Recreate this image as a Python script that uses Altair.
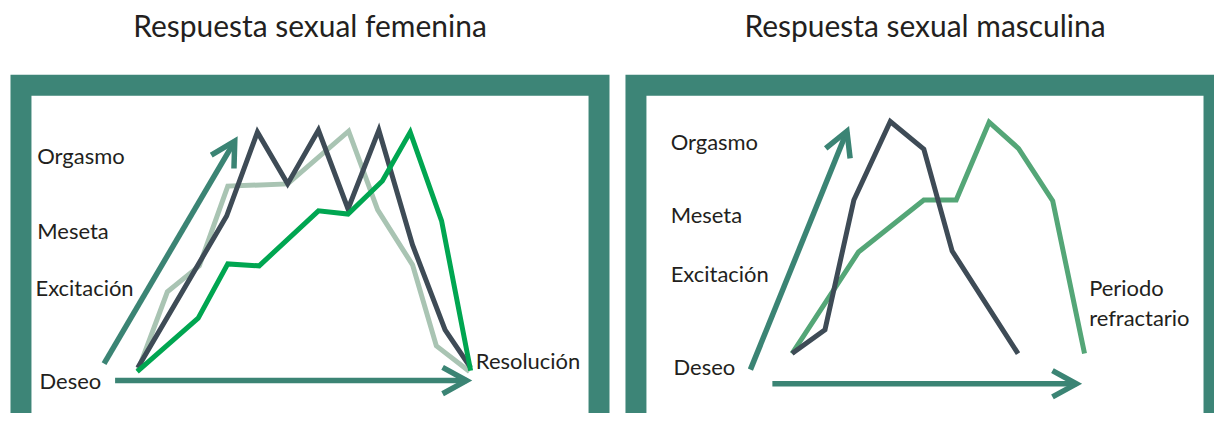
import altair as alt
import pandas as pd

# ---------------- colours / fonts ----------------
FRAME = "#3d8577"
ARROW = "#3b8474"
DARK = "#3e4b56"
LIGHT = "#a9c4b3"
GREEN_F = "#00a651"
GREEN_M = "#54a677"
TEXT = "#231f20"
FONT = "Lato"

# ---------------- data: femenina (t = tiempo 0-100, nivel 0-100) ----------------
fem_dark_t = [20.1, 35.4, 40.7, 45.9, 51.2, 56.3, 61.6, 67.4, 73.0, 77.4]
fem_dark_y = [12.1, 59.3, 85.4, 69.3, 86.0, 61.5, 86.0, 50.3, 23.9, 12.1]

fem_light_t = [20.2, 25.2, 30.7, 35.6, 45.9, 56.4, 61.4, 67.4, 71.5, 77.2]
fem_light_y = [11.5, 35.7, 43.8, 68.6, 69.3, 85.7, 61.2, 44.1, 18.9, 10.9]

fem_green_t = [20.0, 30.5, 35.6, 41.0, 51.2, 56.3, 62.2, 67.0, 72.4, 77.4]
fem_green_y = [10.9, 27.5, 44.4, 43.8, 60.9, 59.9, 70.2, 85.4, 57.8, 11.2]

fem_labels = ["Orgasmo", "Meseta", "Excitación", "Deseo", "Resolución"]
fem_label_t = [2.8, 2.8, 2.5, 3.2, 78.3]
fem_label_y = [75.5, 52.2, 34.5, 5.6, 11.8]

# arrows: start, end, angle of head
fem_arrow_t = [14.3, 16.2]
fem_arrow_y = [13.4, 8.1]
fem_arrow_t2 = [36.8, 76.7]
fem_arrow_y2 = [82.6, 8.1]
fem_arrow_angle = [300.5, 0]

# ---------------- data: masculina ----------------
mas_dark_t = [27.0, 32.7, 37.7, 44.0, 49.8, 54.7, 66.1]
mas_dark_y = [16.5, 23.9, 64.3, 88.7, 80.1, 48.4, 16.5]

mas_green_t = [27.0, 38.5, 49.8, 55.4, 61.1, 66.2, 72.1, 77.6]
mas_green_y = [16.5, 48.1, 64.3, 64.3, 88.5, 80.3, 64.0, 16.5]

mas_labels = ["Orgasmo", "Meseta", "Excitación", "Deseo", "Periodo", "refractario"]
mas_label_t = [6.0, 6.0, 6.0, 6.5, 78.4, 78.4]
mas_label_y = [79.8, 57.1, 38.8, 9.9, 34.5, 25.2]

mas_arrow_t = [19.8, 23.6]
mas_arrow_y = [11.5, 7.1]
mas_arrow_t2 = [36.5, 76.2]
mas_arrow_y2 = [85.7, 7.1]
mas_arrow_angle = [292.1, 0]

CHEVRON = "M-1,-0.55L0,0L-1,0.55"

XS_F = alt.Scale(domain=[0, 99.5], nice=False, zero=False)
XS_M = alt.Scale(domain=[0, 100], nice=False, zero=False)
YS = alt.Scale(domain=[-6.7, 100], nice=False, zero=False)


def line_layer(ts, ys, color, xs):
    df = pd.DataFrame({"t": ts, "y": ys, "i": list(range(len(ts)))})
    return alt.Chart(df).mark_line(color=color, strokeWidth=5, strokeJoin="miter").encode(
        x=alt.X("t:Q", scale=xs, axis=None),
        y=alt.Y("y:Q", scale=YS, axis=None),
        order="i:O",
    )


def arrow_layers(t1, y1, t2, y2, ang, xs):
    df = pd.DataFrame({"t": t1, "y": y1, "t2": t2, "y2": y2, "a": ang})
    shaft = alt.Chart(df).mark_rule(color=ARROW, strokeWidth=5.5).encode(
        x=alt.X("t:Q", scale=xs, axis=None),
        y=alt.Y("y:Q", scale=YS, axis=None),
        x2="t2:Q",
        y2="y2:Q",
    )
    head = alt.Chart(df).mark_point(
        shape=CHEVRON, filled=False, color=ARROW, strokeWidth=5.5,
        size=2304, opacity=1, strokeJoin="miter",
    ).encode(
        x=alt.X("t2:Q", scale=xs, axis=None),
        y=alt.Y("y2:Q", scale=YS, axis=None),
        angle=alt.Angle("a:Q", scale=None),
    )
    return shaft + head


def label_layer(labels, ts, ys, xs):
    df = pd.DataFrame({"label": labels, "t": ts, "y": ys})
    return alt.Chart(df).mark_text(
        align="left", baseline="alphabetic", font=FONT, fontSize=22, color=TEXT
    ).encode(
        x=alt.X("t:Q", scale=xs, axis=None),
        y=alt.Y("y:Q", scale=YS, axis=None),
        text="label:N",
    )


def title(text):
    return alt.TitleParams(
        text, font=FONT, fontSize=30, fontWeight="normal", color=TEXT,
        anchor="middle", offset=42,
    )


left = alt.layer(
    arrow_layers(fem_arrow_t, fem_arrow_y, fem_arrow_t2, fem_arrow_y2, fem_arrow_angle, XS_F),
    line_layer(fem_light_t, fem_light_y, LIGHT, XS_F),
    line_layer(fem_dark_t, fem_dark_y, DARK, XS_F),
    line_layer(fem_green_t, fem_green_y, GREEN_F, XS_F),
    label_layer(fem_labels, fem_label_t, fem_label_y, XS_F),
).properties(width=579, height=343.5, title=title("Respuesta sexual femenina"))

right = alt.layer(
    arrow_layers(mas_arrow_t, mas_arrow_y, mas_arrow_t2, mas_arrow_y2, mas_arrow_angle, XS_M),
    line_layer(mas_green_t, mas_green_y, GREEN_M, XS_M),
    line_layer(mas_dark_t, mas_dark_y, DARK, XS_M),
    label_layer(mas_labels, mas_label_t, mas_label_y, XS_M),
).properties(width=579, height=343.5, title=title("Respuesta sexual masculina"))

chart = alt.hconcat(left, right, spacing=15).properties(
    padding={"left": 2, "top": -6, "right": -11, "bottom": -27},
    background="white",
).configure_view(
    stroke=FRAME, strokeWidth=21, fill="white"
)

chart.save("out.html", embed_options={"renderer": "svg", "actions": False})
